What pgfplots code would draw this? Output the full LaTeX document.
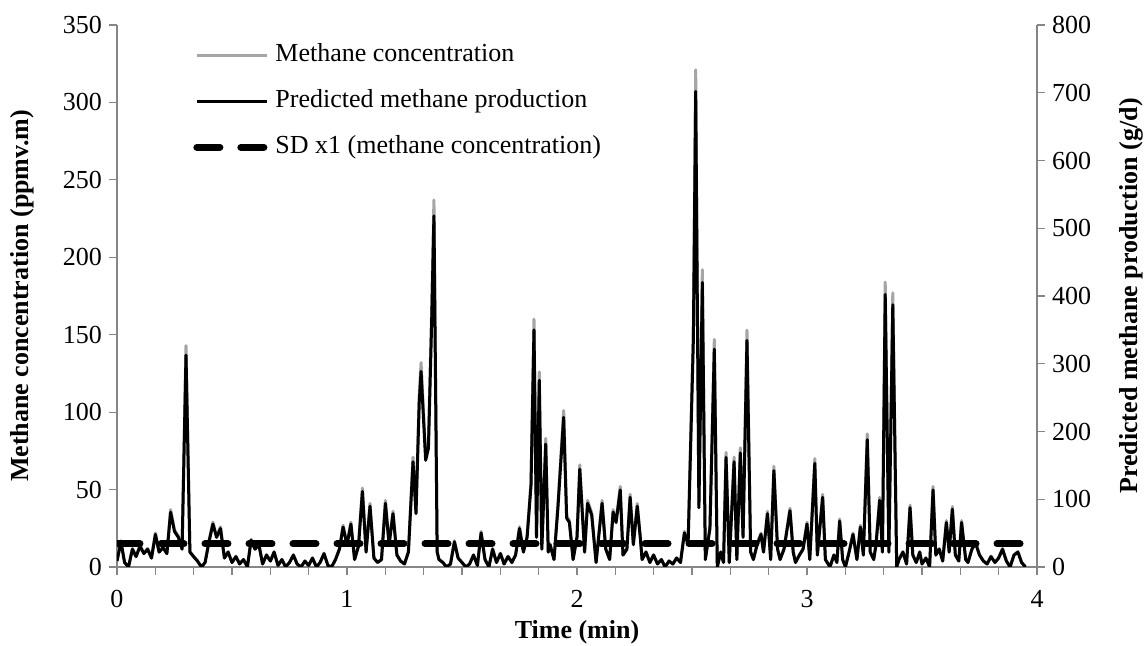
\documentclass[border=0pt]{standalone}
\usepackage{fontspec}
\setmainfont{Liberation Serif}
\usepackage{pgfplots}
\usepackage{pgfplotstable}
\pgfplotsset{compat=1.18}
\definecolor{concgrey}{RGB}{165,165,165}
\definecolor{axgrey}{RGB}{134,134,134}

\pgfplotstableread{
t c p
0.000 4 8.7
0.017 17 37.2
0.033 3 6.6
0.050 0 0
0.067 12 26.2
0.083 7 15.3
0.100 14 30.6
0.117 9 19.7
0.133 12 26.2
0.150 6 13.1
0.167 22 48.1
0.183 10 21.9
0.200 13 28.4
0.217 9 19.7
0.233 37 80.9
0.250 24 52.5
0.267 20 43.7
0.283 12 26.2
0.300 143 312.7
0.317 10 21.9
0.333 7 15.3
0.350 4 8.7
0.367 0 0
0.383 3 6.6
0.400 17 37.2
0.417 29 63.4
0.433 20 43.7
0.450 26 56.9
0.467 6 13.1
0.483 10 21.9
0.500 3 6.6
0.517 7 15.3
0.533 2 4.4
0.550 5 10.9
0.567 0 0
0.583 18 39.4
0.600 12 26.2
0.617 15 32.8
0.633 2 4.4
0.650 8 17.5
0.667 4 8.7
0.683 10 21.9
0.700 1 2.2
0.717 5 10.9
0.733 0 0
0.750 3 6.6
0.767 8 17.5
0.783 2 4.4
0.800 0 0
0.817 4 8.7
0.833 1 2.2
0.850 6 13.1
0.867 0 0
0.883 3 6.6
0.900 9 19.7
0.917 1 2.2
0.933 0 0
0.950 5 10.9
0.967 12 26.2
0.983 27 59.0
1.000 15 32.8
1.017 29 63.4
1.033 5 10.9
1.050 14 30.6
1.067 51 111.5
1.083 10 21.9
1.100 41 89.7
1.117 6 13.1
1.133 3 6.6
1.150 5 10.9
1.167 43 94.0
1.183 15 32.8
1.200 36 78.7
1.217 8 17.5
1.233 4 8.7
1.250 2 4.4
1.267 10 21.9
1.287 71 155.3
1.300 36 78.7
1.314 111 242.8
1.322 132 288.7
1.342 72 157.5
1.354 80 175.0
1.368 165 360.9
1.378 237 518.3
1.392 10 21.9
1.400 5 10.9
1.417 3 6.6
1.433 0 0
1.450 2 4.4
1.467 17 37.2
1.483 6 13.1
1.500 3 6.6
1.517 0 0
1.533 2 4.4
1.550 8 17.5
1.567 1 2.2
1.583 23 50.3
1.600 5 10.9
1.617 0 0
1.633 12 26.2
1.650 3 6.6
1.667 9 19.7
1.683 2 4.4
1.700 7 15.3
1.717 3 6.6
1.733 8 17.5
1.750 26 56.9
1.767 10 21.9
1.783 20 43.7
1.800 55 120.3
1.813 160 349.9
1.824 20 43.7
1.836 126 275.6
1.847 12 26.2
1.864 83 181.5
1.875 10 21.9
1.883 15 32.8
1.900 5 10.9
1.917 40 87.5
1.942 101 220.9
1.955 33 72.2
1.967 30 65.6
1.983 5 10.9
2.000 20 43.7
2.012 66 144.3
2.033 10 21.9
2.046 43 94.0
2.064 35 76.5
2.083 3 6.6
2.109 43 94.0
2.125 12 26.2
2.142 5 10.9
2.157 37 80.9
2.170 30 65.6
2.188 52 113.7
2.200 8 17.5
2.217 12 26.2
2.231 47 102.8
2.245 15 32.8
2.262 41 89.7
2.275 20 43.7
2.283 5 10.9
2.300 10 21.9
2.317 3 6.6
2.333 8 17.5
2.350 2 4.4
2.367 5 10.9
2.383 0 0
2.400 4 8.7
2.417 2 4.4
2.433 6 13.1
2.450 3 6.6
2.467 23 50.3
2.483 15 32.8
2.506 154 336.8
2.516 321 702.0
2.530 40 87.5
2.545 192 419.9
2.558 5 10.9
2.578 26 56.9
2.597 147 321.5
2.610 0 0
2.625 10 21.9
2.637 3 6.6
2.648 74 161.8
2.662 3 6.6
2.683 71 155.3
2.695 5 10.9
2.710 77 168.4
2.722 20 43.7
2.739 153 334.6
2.755 10 21.9
2.767 5 10.9
2.783 15 32.8
2.800 22 48.1
2.811 10 21.9
2.828 36 78.7
2.842 5 10.9
2.856 65 142.2
2.872 12 26.2
2.883 5 10.9
2.900 12 26.2
2.926 38 83.1
2.940 10 21.9
2.950 3 6.6
2.967 8 17.5
2.983 12 26.2
3.000 29 63.4
3.012 5 10.9
3.034 70 153.1
3.045 8 17.5
3.068 47 102.8
3.080 5 10.9
3.100 0 0
3.117 8 17.5
3.130 3 6.6
3.142 31 67.8
3.155 5 10.9
3.167 0 0
3.183 10 21.9
3.200 22 48.1
3.217 5 10.9
3.232 27 59.0
3.245 8 17.5
3.262 86 188.1
3.275 10 21.9
3.290 5 10.9
3.300 15 32.8
3.316 45 98.4
3.328 10 21.9
3.340 184 402.4
3.356 10 21.9
3.373 177 387.1
3.390 0 0
3.400 5 10.9
3.417 10 21.9
3.433 2 4.4
3.448 40 87.5
3.460 8 17.5
3.475 3 6.6
3.490 10 21.9
3.500 2 4.4
3.517 6 13.1
3.533 0 0
3.548 52 113.7
3.560 8 17.5
3.575 12 26.2
3.590 4 8.7
3.606 30 65.6
3.618 10 21.9
3.632 39 85.3
3.645 8 17.5
3.660 4 8.7
3.672 30 65.6
3.690 5 10.9
3.700 3 6.6
3.717 12 26.2
3.733 16 35.0
3.750 8 17.5
3.767 4 8.7
3.783 2 4.4
3.800 7 15.3
3.817 3 6.6
3.833 6 13.1
3.850 12 26.2
3.867 4 8.7
3.883 0 0
3.900 8 17.5
3.917 10 21.9
3.933 3 6.6
3.950 0 0
}\datatable

\pgfplotstableread{
t sd
0 15
4 15
}\sdtable

\begin{document}
\begin{tikzpicture}
\useasboundingbox (-58.5pt,-39.5pt) rectangle (514pt,283.5pt);
\pgfplotsset{
  every axis/.append style={
    scale only axis, width=460pt, height=271pt,
    xmin=0, xmax=4,
    font=\fontsize{13}{15}\selectfont,
    /pgf/number format/assume math mode=true,
    tick style={axgrey, line width=0.6pt},
    axis line style={axgrey, line width=0.6pt},
    tick align=outside,
    major tick length=4pt, minor tick length=4pt,
    ticklabel style={font=\fontsize{13}{15}\selectfont, black},
    every axis plot/.append style={line join=round},
  }
}
\begin{axis}[
  axis x line*=bottom, axis y line*=left,
  ymin=0, ymax=350, ytick={0,50,...,350},
  xtick={0,1,2,3,4}, minor x tick num=5,
  xticklabel style={yshift=-4pt},
  xlabel={\textbf{Time (min)}},
  ylabel={\textbf{Methane concentration (ppmv.m)}},
  xlabel style={at={(axis description cs:0.5,0)}, anchor=center, yshift=-32.5pt},
  ylabel style={at={(axis description cs:0,0.5)}, anchor=center, rotate=0, yshift=47.5pt},
]
\addplot[concgrey, line width=1.5pt] table[x=t, y=c]{\datatable};
\addplot[black, line width=3.5pt, line cap=round, dash pattern=on 11.5pt off 10.5pt] table[x=t, y=sd]{\sdtable};
\end{axis}
\begin{axis}[
  axis y line*=right, axis x line=none,
  ymin=0, ymax=800, ytick={0,100,...,800},
  ylabel={\textbf{Predicted methane production (g/d)}},
  ylabel style={at={(axis description cs:1,0.5)}, anchor=center, yshift=-47pt},
  legend cell align=left,
  legend image code/.code={\draw[#1] (0pt,0pt) -- (35pt,0pt);},
  legend style={draw=none, fill=none, inner sep=0pt, row sep=11pt, column sep=2.5pt,
    at={(axis description cs:0.0826,0.967)}, anchor=north west,
    font=\fontsize{13}{15}\selectfont,
    nodes={inner sep=0pt, text height=9pt, text depth=3pt}},
]
\addlegendimage{concgrey, line width=1.5pt}
\addlegendentry{Methane concentration}
\addplot[black, line width=1.5pt] table[x=t, y=p]{\datatable};
\addlegendentry{Predicted methane production}
\addlegendimage{black, line width=3.5pt, line cap=round, dash pattern=on 11.5pt off 10.5pt}
\addlegendentry{SD x1 (methane concentration)}
\end{axis}
\end{tikzpicture}
\end{document}
